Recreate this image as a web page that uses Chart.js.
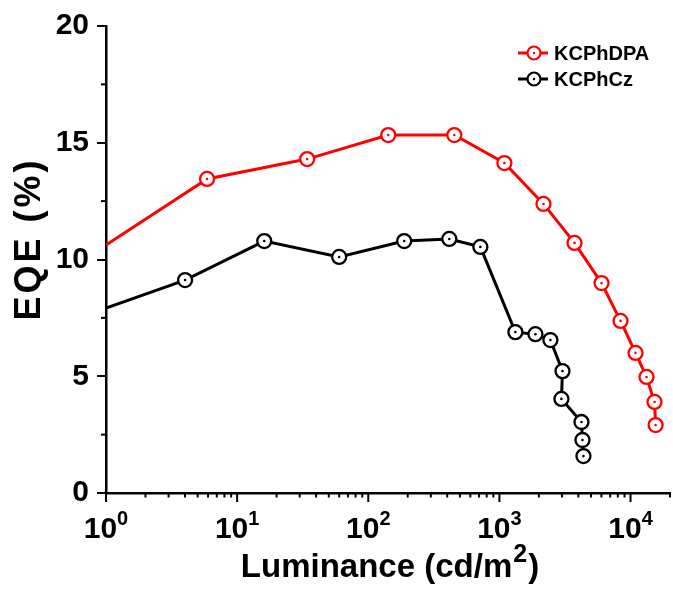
<!DOCTYPE html>
<html>
<head>
<meta charset="utf-8">
<script src="https://cdn.jsdelivr.net/npm/chart.js@4.4.1/dist/chart.umd.min.js"></script>
<style>
  html, body { margin: 0; padding: 0; background: #fff; overflow: hidden; }
  #wrap { width: 673px; height: 590px; }
</style>
</head>
<body>
<div id="wrap"><canvas id="eqeChart"></canvas></div>
<script>
// Data: luminance (cd/m2) vs EQE (%)
const dpaLuminance = [1, 5.9, 34.2, 142, 453, 1092, 2168, 3740, 6010, 8390, 10920, 13240, 15240, 15530];
const dpaEqe       = [10.62, 13.45, 14.3, 15.33, 15.33, 14.13, 12.38, 10.71, 8.99, 7.37, 6.0, 4.97, 3.9, 2.91];

const czLuminance = [1, 4.01, 16.1, 60, 188, 415, 716, 1324, 1883, 2449, 3028, 2972, 4226, 4300, 4375];
const czEqe       = [7.92, 9.12, 10.79, 10.11, 10.79, 10.88, 10.54, 6.89, 6.8, 6.55, 5.22, 4.03, 3.04, 2.27, 1.58];

const seriesNames = ['KCPhDPA', 'KCPhCz'];
const seriesColors = ['#ff0000', '#000000'];
const xDecades = [0, 1, 2, 3, 4];
const yTicks = [0, 5, 10, 15, 20];

const FONT = "'Liberation Sans', Arial, sans-serif";

function toPoints(xs, ys) {
    return xs.map((x, i) => ({ x: x, y: ys[i] }));
}

// first point is where the curve leaves the axis, no marker there
function radii(n) {
    return Array.from({ length: n }, (_, i) => (i === 0 ? 0 : 7));
}

// dots in the centre of each circle marker
const centreDots = {
    id: 'centreDots',
    afterDatasetsDraw(chart) {
        const ctx = chart.ctx;
        chart.data.datasets.forEach((ds, di) => {
            const meta = chart.getDatasetMeta(di);
            meta.data.forEach((pt, i) => {
                if (i === 0) return;
                ctx.save();
                ctx.fillStyle = ds.borderColor;
                ctx.beginPath();
                ctx.arc(pt.x, pt.y, 1.3, 0, Math.PI * 2);
                ctx.fill();
                ctx.restore();
            });
        });
    }
};

// tick marks, superscript tick labels, axis titles and legend
const axisDecor = {
    id: 'axisDecor',
    afterDraw(chart) {
        const ctx = chart.ctx;
        const xs = chart.scales.x;
        const ys = chart.scales.y;
        const area = chart.chartArea;
        ctx.save();
        ctx.strokeStyle = '#000';
        ctx.lineWidth = 2;

        // x ticks (major + minor)
        for (let d = 0; d <= 4; d++) {
            for (let m = 1; m <= 9; m++) {
                const v = m * Math.pow(10, d);
                if (v > xs.max) break;
                const px = xs.getPixelForValue(v);
                const len = m === 1 ? 9 : 4.5;
                ctx.beginPath();
                ctx.moveTo(px, area.bottom);
                ctx.lineTo(px, area.bottom + len);
                ctx.stroke();
            }
        }
        // y minor ticks
        for (let v = 2.5; v < 20; v += 5) {
            const py = ys.getPixelForValue(v);
            ctx.beginPath();
            ctx.moveTo(area.left, py);
            ctx.lineTo(area.left - 5, py);
            ctx.stroke();
        }

        // x tick labels 10^n
        ctx.fillStyle = '#000';
        ctx.textBaseline = 'alphabetic';
        xDecades.forEach(d => {
            const px = xs.getPixelForValue(Math.pow(10, d));
            ctx.font = 'bold 30px ' + FONT;
            const wBase = ctx.measureText('10').width;
            ctx.font = 'bold 20px ' + FONT;
            const wExp = ctx.measureText(String(d)).width;
            const start = px - (wBase + wExp) / 2;
            ctx.font = 'bold 30px ' + FONT;
            ctx.textAlign = 'left';
            ctx.fillText('10', start, 538);
            ctx.font = 'bold 20px ' + FONT;
            ctx.fillText(String(d), start + wBase, 525);
        });

        // x title with superscript
        ctx.font = 'bold 33px ' + FONT;
        const t1 = 'Luminance (cd/m';
        const w1 = ctx.measureText(t1).width;
        ctx.font = 'bold 25px ' + FONT;
        const w2 = ctx.measureText('2').width;
        ctx.font = 'bold 33px ' + FONT;
        const w3 = ctx.measureText(')').width;
        let sx = 389 - (w1 + w2 + w3) / 2;
        ctx.fillText(t1, sx, 577);
        ctx.font = 'bold 25px ' + FONT;
        ctx.fillText('2', sx + w1 + 1, 562);
        ctx.font = 'bold 33px ' + FONT;
        ctx.fillText(')', sx + w1 + w2 + 2, 577);

        // y title
        ctx.save();
        ctx.translate(40, 239);
        ctx.rotate(-Math.PI / 2);
        ctx.textAlign = 'center';
        ctx.font = 'bold 36px ' + FONT;
        ctx.letterSpacing = '3px';
        ctx.fillText('EQE (%)', 0, 0);
        ctx.restore();

        // legend
        const rows = [53, 79];
        seriesNames.forEach((name, i) => {
            const y = rows[i];
            ctx.strokeStyle = seriesColors[i];
            ctx.lineWidth = 3;
            ctx.beginPath();
            ctx.moveTo(518, y);
            ctx.lineTo(548, y);
            ctx.stroke();
            ctx.fillStyle = '#fff';
            ctx.lineWidth = 2.2;
            ctx.beginPath();
            ctx.arc(534, y, 6.5, 0, Math.PI * 2);
            ctx.fill();
            ctx.stroke();
            ctx.fillStyle = seriesColors[i];
            ctx.beginPath();
            ctx.arc(534, y, 1.2, 0, Math.PI * 2);
            ctx.fill();
            ctx.fillStyle = '#000';
            ctx.font = 'bold 20px ' + FONT;
            ctx.textAlign = 'left';
            ctx.textBaseline = 'middle';
            ctx.fillText(name, 554, y + 1);
        });
        ctx.restore();
    }
};

document.addEventListener('DOMContentLoaded', () => {
    const ctx = document.getElementById('eqeChart').getContext('2d');
    new Chart(ctx, {
        type: 'line',
        data: {
            datasets: [
                {
                    label: seriesNames[0],
                    data: toPoints(dpaLuminance, dpaEqe),
                    borderColor: seriesColors[0],
                    backgroundColor: '#fff',
                    borderWidth: 3,
                    pointRadius: radii(dpaLuminance.length),
                    pointBorderWidth: 2.3,
                    pointBackgroundColor: '#fff',
                    pointBorderColor: seriesColors[0],
                    tension: 0
                },
                {
                    label: seriesNames[1],
                    data: toPoints(czLuminance, czEqe),
                    borderColor: seriesColors[1],
                    backgroundColor: '#fff',
                    borderWidth: 3,
                    pointRadius: radii(czLuminance.length),
                    pointBorderWidth: 2.3,
                    pointBackgroundColor: '#fff',
                    pointBorderColor: seriesColors[1],
                    tension: 0
                }
            ]
        },
        options: {
            responsive: true,
            maintainAspectRatio: false,
            animation: false,
            layout: { autoPadding: false, padding: { top: 26, right: 3, left: 0, bottom: 0 } },
            plugins: {
                legend: { display: false },
                tooltip: { enabled: false }
            },
            scales: {
                x: {
                    type: 'logarithmic',
                    min: 1,
                    max: 20000,
                    ticks: { display: false },
                    grid: { display: false },
                    border: { display: true, color: '#000', width: 2.5 },
                    afterFit: (scale) => {
                        scale.height = 97;
                        scale.paddingLeft = 0;
                        scale.paddingRight = 0;
                    }
                },
                y: {
                    type: 'linear',
                    min: 0,
                    max: 20,
                    afterBuildTicks: (scale) => { scale.ticks = yTicks.map(v => ({ value: v })); },
                    ticks: {
                        color: '#000',
                        padding: 8,
                        font: { family: FONT, size: 30, weight: 'bold' }
                    },
                    grid: {
                        display: true,
                        drawOnChartArea: false,
                        drawTicks: true,
                        tickLength: 9,
                        color: '#000',
                        lineWidth: 2
                    },
                    border: { display: true, color: '#000', width: 2.5 },
                    afterFit: (scale) => {
                        scale.width = 106;
                        scale.paddingTop = 0;
                        scale.paddingBottom = 0;
                    }
                }
            }
        },
        plugins: [centreDots, axisDecor]
    });
});
</script>
</body>
</html>
